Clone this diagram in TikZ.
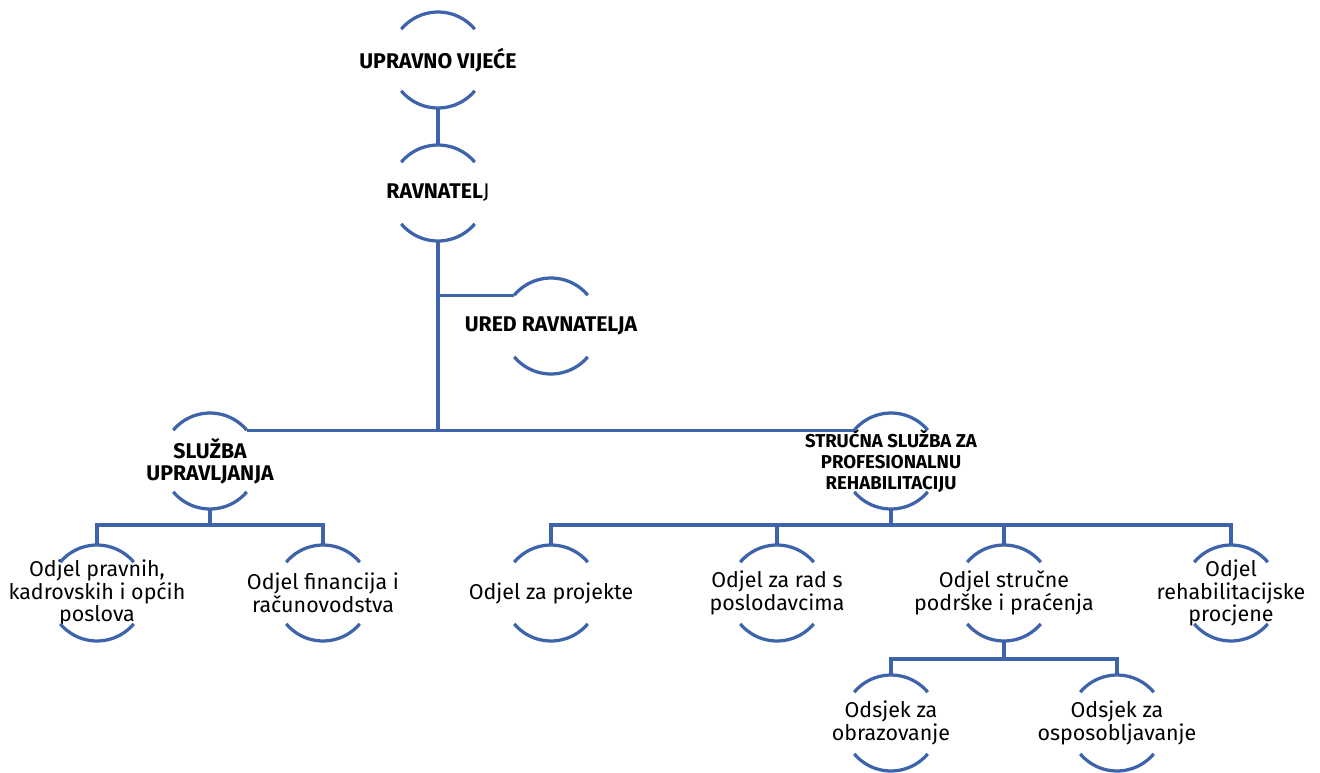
\documentclass[tikz,border=0pt]{standalone}
\usepackage{fontspec}
\setmainfont{Fira Sans}
\usepackage{xcolor}
\usetikzlibrary{positioning}
\definecolor{orgblue}{RGB}{61,99,170}

\begin{document}
\begin{tikzpicture}[
			x=0.02cm, y=-0.02cm,
			unit/.style={circle, draw=none, minimum size=1.92cm, inner sep=0pt, outer sep=0pt},
			headtxt/.style={align=center, font=\fontsize{12.1}{12.6}\selectfont\bfseries},
			smalltxt/.style={align=center, font=\fontsize{10.6}{12}\selectfont\bfseries},
			deptxt/.style={align=center, font=\fontsize{12.2}{12.9}\selectfont},
			conn/.style={draw=orgblue, line width=0.065cm}
			]
			\useasboundingbox (0,0) rectangle (1320,772);
			
			% Nodes
			\node (uv) [unit, label={[headtxt]center:UPRAVNO VIJEĆE}] at (438,60) {};
			\node (rav) [unit, label={[headtxt]center:RAVNATEL{\mdseries J}}] at (438,193) {};
			\node (ured) [unit, label={[headtxt]center:URED RAVNATELJA}] at (551,326) {};
			\node (sluzba) [unit, label={[headtxt]center:SLUŽBA\\UPRAVLJANJA}] at (210,461) {};
			\node (strucna) [unit, label={[smalltxt]center:STRUČNA SLUŽBA ZA\\PROFESIONALNU\\REHABILITACIJU}] at (891,461) {};
			\node (pravni) [unit, label={[deptxt]center:Odjel pravnih,\\kadrovskih i općih\\poslova}] at (97,593) {};
			\node (financ) [unit, label={[deptxt]center:Odjel financija i\\računovodstva}] at (323,593) {};
			\node (projekti) [unit, label={[deptxt]center:Odjel za projekte}] at (551,593) {};
			\node (poslodavci) [unit, label={[deptxt]center:Odjel za rad s\\poslodavcima}] at (777,593) {};
			\node (podrska) [unit, label={[deptxt]center:Odjel stručne\\podrške i praćenja}] at (1004,593) {};
			\node (procjena) [unit, label={[deptxt]center:Odjel\\rehabilitacijske\\procjene}] at (1231,593) {};
			\node (obrazovanje) [unit, label={[deptxt]center:Odsjek za\\obrazovanje}] at (891,723) {};
			\node (osposob) [unit, label={[deptxt]center:Odsjek za\\osposobljavanje}] at (1117,723) {};
			
			% Arcs
			\foreach \n in {uv,rav,ured,sluzba,strucna,pravni,financ,projekti,poslodavci,podrska,procjena,obrazovanje,osposob} {
				\draw [conn] (\n.40) arc[start angle=40, end angle=140, radius=0.96cm];
				\draw [conn] (\n.220) arc[start angle=220, end angle=320, radius=0.96cm];
			}
			
			% Connections
			\draw [conn] (uv.south) -- (rav.north);
			\draw [conn] (rav.south) -- (rav.south |- sluzba.40);
			\draw [conn] (rav.south |- ured.140) -- (ured.140);
			\draw [conn] (sluzba.40) -- (strucna.140);
			\draw [conn] (sluzba.south) -- ++(0,16) -| (pravni.north);
			\draw [conn] (sluzba.south) -- ++(0,16) -| (financ.north);
			\draw [conn] (strucna.south) -- ++(0,16) -| (projekti.north);
			\draw [conn] (strucna.south) -- ++(0,16) -| (poslodavci.north);
			\draw [conn] (strucna.south) -- ++(0,16) -| (podrska.north);
			\draw [conn] (strucna.south) -- ++(0,16) -| (procjena.north);
			\draw [conn] (podrska.south) -- ++(0,18) -| (obrazovanje.north);
			\draw [conn] (podrska.south) -- ++(0,18) -| (osposob.north);
			
		\end{tikzpicture}
\end{document}
